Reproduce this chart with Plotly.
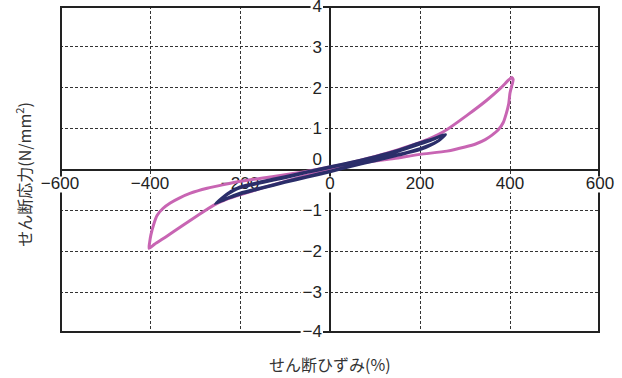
import plotly.graph_objects as go

# ---- data (strain %, stress N/mm2) ----
pink_x = [-402, -401, -398, -392, -384, -372, -355, -335, -310, -273, -236, -199, -125, -60, 0, 50, 100, 150, 200, 253, 305, 349, 379, 397, 404,
          407, 404, 400, 397, 392, 385, 374, 360, 345, 325, 300, 260, 200, 142, 83, 30, 0,
          -50, -100, -150, -200, -230, -258, -295, -330, -365, -390, -402]
pink_y = [-1.93, -1.80, -1.60, -1.35, -1.12, -0.96, -0.82, -0.70, -0.58, -0.46, -0.37, -0.29, -0.17, -0.06, 0.06, 0.18, 0.32, 0.48, 0.66, 0.93, 1.33, 1.70, 1.99, 2.19, 2.25,
          2.20, 2.05, 1.87, 1.60, 1.38, 1.15, 0.97, 0.84, 0.73, 0.63, 0.55, 0.45, 0.37, 0.27, 0.18, 0.08, 0.02,
          -0.14, -0.29, -0.45, -0.62, -0.73, -0.87, -1.13, -1.39, -1.65, -1.83, -1.93]

navy_x = [-255, -240, -220, -200, -150, -100, -50, 0, 50, 100, 150, 200, 230, 257,
          245, 225, 200, 150, 100, 50, 0, -50, -100, -150, -200, -230, -255]
navy_y = [-0.84, -0.69, -0.53, -0.42, -0.29, -0.17, -0.05, 0.07, 0.19, 0.32, 0.47, 0.66, 0.76, 0.86,
          0.73, 0.60, 0.48, 0.34, 0.21, 0.08, -0.06, -0.19, -0.32, -0.46, -0.61, -0.72, -0.84]

navy2_x = [-250, -236, -216, -200, -150, -100, -50, 0, 50, 100, 150, 200, 228, 252,
           242, 222, 200, 150, 100, 50, 0, -50, -100, -150, -200, -228, -250]
navy2_y = [-0.81, -0.68, -0.54, -0.46, -0.33, -0.21, -0.08, 0.04, 0.16, 0.28, 0.43, 0.61, 0.72, 0.83,
           0.72, 0.61, 0.52, 0.37, 0.24, 0.11, -0.03, -0.16, -0.29, -0.43, -0.57, -0.69, -0.81]

x_ticks = [-600, -400, -200, 0, 200, 400, 600]
y_ticks = [-4, -3, -2, -1, 0, 1, 2, 3, 4]
x_title = "せん断ひずみ(%)"
y_title = "せん断応力(N/mm<sup>2</sup>)"

# ---- style ----
PINK = "#c865b3"
NAVY = "#2b2e6a"
FS = 17
TICKFONT = dict(family="Liberation Sans, Arial, sans-serif", size=FS, color="#222")
CJK = "Noto Sans CJK JP"
XR = [-600, 600]
YR = [-4, 4]
W, H = 622, 378
ML, MR, MT, MB = 60, 22, 6, 45
PW, PH = W - ML - MR, H - MT - MB
UX = (XR[1] - XR[0]) / PW   # data units per pixel
UY = (YR[1] - YR[0]) / PH

def fmt(v):
    return ("−" + str(abs(v))) if v < 0 else str(v)

def text_w(s):
    return sum((0.584 if c == "−" else 0.556) for c in s) * FS

fig = go.Figure()

shapes = []
# frame (drawn in the 'between' layer so that label backgrounds can cut it)
shapes.append(dict(type="rect", xref="x", yref="y", x0=XR[0], x1=XR[1], y0=YR[0], y1=YR[1],
                   line=dict(color="#222", width=4), layer="between"))

# x tick labels
xl_y = [-15 * UY] * len(x_ticks)
for v, yy in zip(x_ticks, xl_y):
    w = text_w(fmt(v)) + 2
    shapes.append(dict(type="rect", xref="x", yref="y", x0=v - w / 2 * UX, x1=v + w / 2 * UX,
                       y0=yy - 8 * UY, y1=yy + 8 * UY, fillcolor="white", line=dict(width=0), layer="between"))
fig.add_trace(go.Scatter(x=x_ticks, y=xl_y, mode="text", text=[fmt(v) for v in x_ticks], cliponaxis=False,
                         textposition="middle center", textfont=TICKFONT, showlegend=False, hoverinfo="skip"))

# y tick labels (kept inside the axis range so none is dropped)
yl_x = -8 * UX
yl_y = [max(YR[0], v - 1.5 * UY + (10 * UY if v == 0 else 0)) for v in y_ticks]
for v, yy in zip(y_ticks, yl_y):
    w = text_w(fmt(v)) + 2
    shapes.append(dict(type="rect", xref="x", yref="y", x0=yl_x - w * UX, x1=yl_x + 1 * UX,
                       y0=yy - 8 * UY, y1=yy + 8 * UY, fillcolor="white", line=dict(width=0), layer="between"))
fig.add_trace(go.Scatter(x=[yl_x] * len(y_ticks), y=yl_y, mode="text", text=[fmt(v) for v in y_ticks], cliponaxis=False,
                         textposition="middle left", textfont=TICKFONT, showlegend=False, hoverinfo="skip"))

# curves
fig.add_trace(go.Scatter(x=pink_x, y=pink_y, mode="lines", line=dict(color=PINK, width=3, shape="spline", smoothing=0.6),
                         showlegend=False))
fig.add_trace(go.Scatter(x=navy_x, y=navy_y, mode="lines", line=dict(color=NAVY, width=2.6, shape="spline", smoothing=0.6),
                         showlegend=False))
fig.add_trace(go.Scatter(x=navy2_x, y=navy2_y, mode="lines", line=dict(color=NAVY, width=2.2, shape="spline", smoothing=0.6),
                         showlegend=False))

ann = [
    dict(x=0.5, y=-0.095, xref="paper", yref="paper", text=x_title, showarrow=False,
         xanchor="center", yanchor="middle", font=dict(family=CJK, size=16, color="#333")),
    dict(x=-0.068, y=0.485, xref="paper", yref="paper", text=y_title, showarrow=False, textangle=-90,
         xanchor="center", yanchor="middle", font=dict(family=CJK, size=16, color="#333")),
]

fig.update_layout(
    width=W, height=H,
    margin=dict(l=ML, r=MR, t=MT, b=MB),
    plot_bgcolor="white", paper_bgcolor="white",
    annotations=ann, shapes=shapes,
    xaxis=dict(range=XR, tickvals=[-400, -200, 200, 400], showticklabels=False, ticks="",
               showgrid=True, gridcolor="#333", gridwidth=1, griddash="3px,2px",
               zeroline=True, zerolinecolor="#222", zerolinewidth=1.5,
               showline=False, fixedrange=True),
    yaxis=dict(range=YR, tickvals=[-3, -2, -1, 1, 2, 3], showticklabels=False, ticks="",
               showgrid=True, gridcolor="#333", gridwidth=1, griddash="3px,2px",
               zeroline=True, zerolinecolor="#222", zerolinewidth=2,
               showline=False, fixedrange=True),
)

fig.write_html("out.html", config={"displayModeBar": False},
               post_script="document.body.style.margin='0';document.body.style.padding='0';")
